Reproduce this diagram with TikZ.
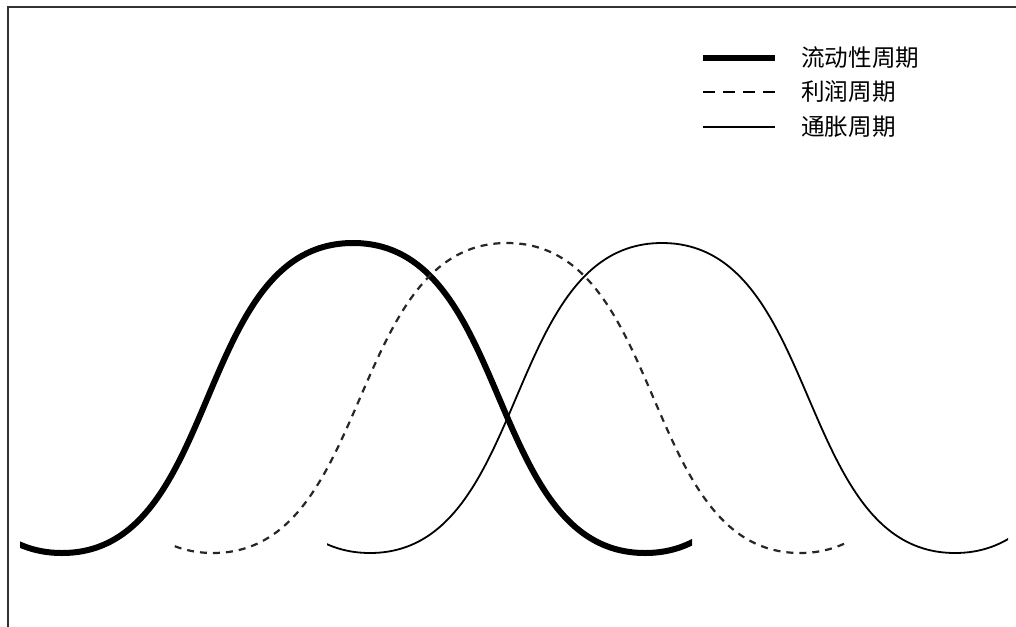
\documentclass[tikz,border=0pt]{standalone}
\usepackage{fontspec}
\newfontfamily\cjk{Noto Sans CJK SC}
\definecolor{framec}{HTML}{333333}
\tikzset{
  framel/.style={draw=framec,line width=2pt},
  thickc/.style={draw=black,line width=6pt},
  dashc/.style={draw=black!85,line width=2.2pt,dash pattern=on 7pt off 6pt},
  thinc/.style={draw=black,line width=1.8pt},
  legthick/.style={draw=black,line width=6.5pt},
  legdash/.style={draw=black,line width=2.5pt,dash pattern=on 12pt off 8pt},
  legthin/.style={draw=black,line width=2.5pt},
  legtext/.style={anchor=west,inner sep=0pt,font=\cjk\fontsize{23.6}{28}\selectfont}
}
\begin{document}
\begin{tikzpicture}[x=1pt,y=-1pt]
\clip (0,0) rectangle (1016,626);
\fill[white] (0,0) rectangle (1016,626);
% frame
\draw[framel] (8,640) -- (8,7) -- (1030,7);
% thick: liquidity cycle
\begin{scope}
\clip (20,0) rectangle (692,626);
\draw[thickc] (-229,243) .. controls (-69,243) and (-98,553) .. (62,553)
  .. controls (222,553) and (193,243) .. (353,243)
  .. controls (513,243) and (485,553) .. (645,553)
  .. controls (805,553) and (776,243) .. (936,243);
\end{scope}
% dashed: profit cycle
\begin{scope}
\clip (173,0) rectangle (848,626);
\draw[dashc] (-80,243) .. controls (80,243) and (53,553) .. (213,553)
  .. controls (373,553) and (347,243) .. (507,243)
  .. controls (667,243) and (640,553) .. (800,553)
  .. controls (960,553) and (933,243) .. (1093,243);
\end{scope}
% thin: inflation cycle
\begin{scope}
\clip (327,0) rectangle (1008,626);
\draw[thinc] (78,243) .. controls (238,243) and (210,553) .. (370,553)
  .. controls (530,553) and (502,243) .. (662,243)
  .. controls (822,243) and (795,553) .. (955,553)
  .. controls (1115,553) and (1088,243) .. (1248,243);
\end{scope}
% legend
\coordinate (l1a) at (703,58); \coordinate (l1b) at (775,58);
\coordinate (l2a) at (703,92); \coordinate (l2b) at (775,92);
\coordinate (l3a) at (703,127); \coordinate (l3b) at (775,127);
\draw[legthick] (l1a) -- (l1b);
\draw[legdash] (l2a) -- (l2b);
\draw[legthin] (l3a) -- (l3b);
\node[legtext] (t1) at (801,58) {流动性周期};
\node[legtext] (t2) at (801,92) {利润周期};
\node[legtext] (t3) at (801,127) {通胀周期};
\end{tikzpicture}
\end{document}
